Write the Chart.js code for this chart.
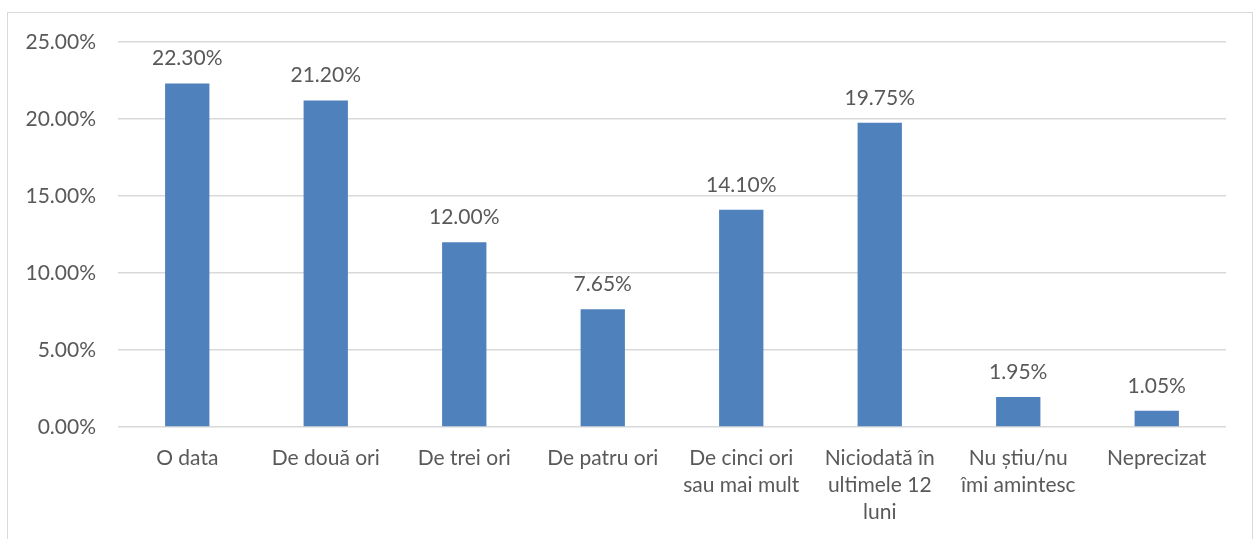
<!DOCTYPE html>
<html>
<head>
<meta charset="utf-8">
<script src="https://cdn.jsdelivr.net/npm/chart.js@4.4.1/dist/chart.umd.min.js"></script>
<style>
  html, body { margin: 0; padding: 0; background: #fff; overflow: hidden; }
  #wrap { position: absolute; left: 0; top: 0; width: 1255px; height: 539px; }
  #frame { position: absolute; left: 7px; top: 12px; width: 1246px; height: 600px; border: 1px solid #D9D9D9; box-sizing: border-box; }
  canvas { position: absolute; left: 0; top: 0; }
</style>
</head>
<body>
<div id="wrap">
  <div id="frame"></div>
  <canvas id="chart" width="1255" height="539"></canvas>
</div>
<script>
const categories = [
  'O data',
  'De două ori',
  'De trei ori',
  'De patru ori',
  ['De cinci ori', 'sau mai mult'],
  ['Niciodată în', 'ultimele 12', 'luni'],
  ['Nu știu/nu', 'îmi amintesc'],
  'Neprecizat'
];
const values = [22.30, 21.20, 12.00, 7.65, 14.10, 19.75, 1.95, 1.05];
const yTicks = [0, 5, 10, 15, 20, 25];

const FONT = 'Lato, "Open Sans", sans-serif';
const TEXT = '#595959';

// etichete cu valori deasupra barelor
const valueLabels = {
  id: 'valueLabels',
  afterDatasetsDraw(chart) {
    const ctx = chart.ctx;
    const meta = chart.getDatasetMeta(0);
    ctx.save();
    ctx.font = '21px ' + FONT;
    ctx.fillStyle = TEXT;
    ctx.textAlign = 'center';
    ctx.textBaseline = 'middle';
    meta.data.forEach((bar, i) => {
      ctx.fillText(values[i].toFixed(2) + '%', bar.x, bar.y - 25);
    });
    ctx.restore();
  }
};

new Chart(document.getElementById('chart').getContext('2d'), {
  type: 'bar',
  data: {
    labels: categories,
    datasets: [{
      data: values,
      backgroundColor: '#4F81BD',
      categoryPercentage: 1,
      barPercentage: 0.32
    }]
  },
  options: {
    responsive: false,
    animation: false,
    layout: { padding: { top: 42, right: 29, left: 0, bottom: 0 } },
    plugins: { legend: { display: false }, tooltip: { enabled: false } },
    scales: {
      x: {
        grid: { display: false },
        border: { display: false },
        ticks: {
          color: TEXT,
          font: { family: FONT, size: 21, lineHeight: 1.28 },
          padding: 10,
          maxRotation: 0,
          autoSkip: false
        },
        afterFit: (scale) => { scale.height = 112; }
      },
      y: {
        min: 0,
        max: 25,
        afterBuildTicks: (scale) => { scale.ticks = yTicks.map(v => ({ value: v })); },
        grid: { color: '#D9D9D9', lineWidth: 1.5, drawTicks: false },
        border: { display: false },
        ticks: {
          color: TEXT,
          font: { family: FONT, size: 21 },
          padding: 22,
          callback: (v) => v.toFixed(2) + '%'
        },
        afterFit: (scale) => { scale.width = 118; }
      }
    }
  },
  plugins: [valueLabels]
});
</script>
</body>
</html>
